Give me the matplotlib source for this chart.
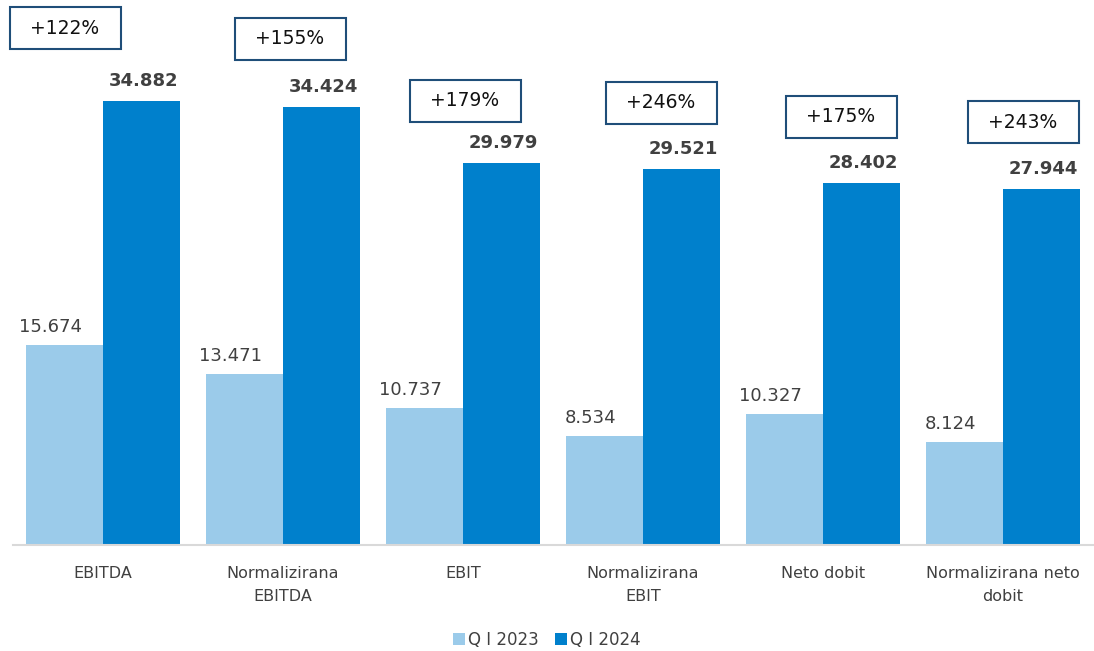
import numpy as np
import matplotlib.pyplot as plt
from matplotlib.patches import Rectangle

plt.rcParams['font.family'] = ['DejaVu Sans']

categories = ['EBITDA', 'Normalizirana\nEBITDA', 'EBIT', 'Normalizirana\nEBIT',
              'Neto dobit', 'Normalizirana neto\ndobit']
q1_2023 = [15.674, 13.471, 10.737, 8.534, 10.327, 8.124]
q1_2024 = [34.882, 34.424, 29.979, 29.521, 28.402, 27.944]
growth = ['+122%', '+155%', '+179%', '+246%', '+175%', '+243%']
series_names = ['Q I 2023', 'Q I 2024']

light = '#9BCBEA'
dark = '#0080CC'
txt = '#404040'
W, H = 1094, 651

def fmt(v):
	return f'{v:.3f}'

fig = plt.figure(figsize=(W/100, H/100), dpi=100)
ax = fig.add_axes([13/W, (H-545)/H, 1080/W, 545/H])

x = np.arange(len(categories))
w = 0.428
b1 = ax.bar(x - w/2, q1_2023, w, color=light, label=series_names[0])
b2 = ax.bar(x + w/2, q1_2024, w, color=dark, label=series_names[1])

for i in range(len(x)):
	ax.annotate(fmt(q1_2023[i]), (x[i] - w/2, q1_2023[i]), xytext=(-14, 9),
		textcoords='offset pixels', ha='center', va='bottom', fontsize=13, color=txt)
	ax.annotate(fmt(q1_2024[i]), (x[i] + w/2, q1_2024[i]), xytext=(2, 11),
		textcoords='offset pixels', ha='center', va='bottom', fontsize=13,
		fontweight='bold', color=txt)

# growth boxes: pixel centers in the figure, 111x42 px each
box_xy = [(65, 28), (290, 39), (465, 101), (661, 103), (841, 117), (1023, 122)]
bw, bh = 111, 42
for (bx, by), g in zip(box_xy, growth):
	fig.patches.append(Rectangle(((bx - bw/2)/W, 1 - (by + bh/2)/H), bw/W, bh/H,
		transform=fig.transFigure, fc='white', ec='#1F4E79', lw=1.5, zorder=5))
	fig.text(bx/W, 1 - by/H, g, ha='center', va='center', fontsize=13.5, color='#111111', zorder=6)

ax.set_xlim(-0.5, len(x) - 0.5)
ax.set_ylim(0, 545/12.73)
ax.set_yticks([])
ax.set_xticks(x)
ax.set_xticklabels(categories, fontsize=11.5, color=txt, linespacing=1.65)
ax.tick_params(axis='x', length=0, pad=15)
for s in ['top', 'right', 'left']:
	ax.spines[s].set_visible(False)
ax.spines['bottom'].set_color('#D9D9D9')
ax.spines['bottom'].set_linewidth(1.5)

fig.legend(loc='center', bbox_to_anchor=(547/W, 1 - 640/H), ncol=2, frameon=False,
	fontsize=12, labelcolor=txt, handlelength=0.7, handleheight=0.7, handletextpad=0.2,
	columnspacing=1.0)

fig.savefig('out.png', dpi=100)
